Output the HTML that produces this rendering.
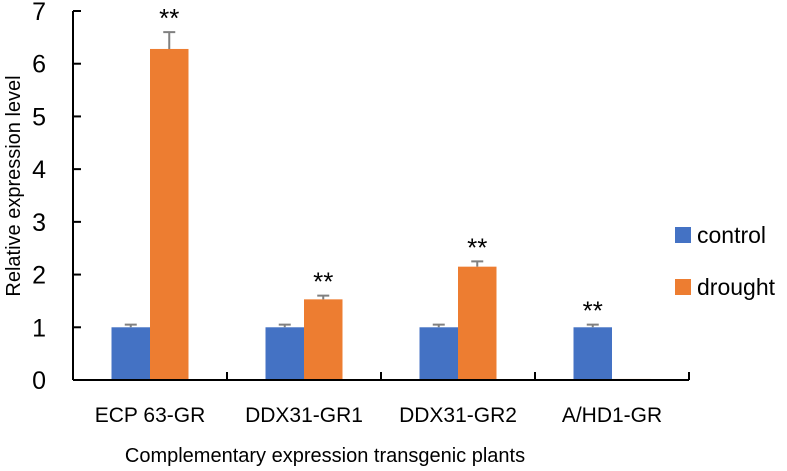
<!DOCTYPE html>
<html><head><meta charset="utf-8"><style>
body{margin:0;background:#fff;}
svg{display:block;font-family:"Liberation Sans",sans-serif;}
</style></head><body>
<svg id="chart" width="787" height="471">
<text transform="translate(20,186) rotate(-90)" text-anchor="middle" font-size="20" fill="#000">Relative expression level</text>
<text x="325" y="462" text-anchor="middle" font-size="20" fill="#000">Complementary expression transgenic plants</text>
<rect x="675" y="227" width="16" height="16" fill="#4472c4"/>
<text x="697" y="243" font-size="23" fill="#000">control</text>
<rect x="675" y="279" width="16" height="16" fill="#ed7d31"/>
<text x="697" y="295" font-size="23" fill="#000">drought</text>
</svg>
<script>
const categories=["ECP 63-GR","DDX31-GR1","DDX31-GR2","A/HD1-GR"];
const controlVals=[1,1,1,1];
const controlErr=[0.05,0.05,0.05,0.05];
const droughtVals=[6.28,1.53,2.15,0.02];
const droughtErr=[0.32,0.07,0.1,0];
const yTicks=[0,1,2,3,4,5,6,7];
const sigControl=[false,false,false,true];
const sigDrought=[true,true,true,false];
const svg=document.getElementById('chart');
const NS='http://www.w3.org/2000/svg';
const x0=73,x1=689,y0=380,yTop=11,yMax=7;
const y=v=>y0-(v/yMax)*(y0-yTop);
const gw=(x1-x0)/categories.length;
const cx=i=>x0+gw*(i+0.5);
const bw=38.5;
function mk(t,a){const e=document.createElementNS(NS,t);for(const k in a)e.setAttribute(k,a[k]);svg.appendChild(e);return e;}
let e=mk('line',{x1:x0,y1:yTop,x2:x0,y2:y0,stroke:'#000','stroke-width':2});


yTicks.forEach(t=>{
 let l=mk('line',{x1:x0,y1:y(t),x2:x0+8,y2:y(t),stroke:'#000','stroke-width':2});
 
 
 let tx=mk('text',{x:x0-27,y:y(t)+9,'text-anchor':'end','font-size':25,fill:'#000'});
 tx.textContent=t;
 
 
});
function drawBar(v,err,xl,col,sig,name){
 let r=mk('rect',{x:xl,y:y(v),width:bw,height:y0-y(v),fill:col});
 
 
 const mx=xl+bw/2;
 if(err>0){
  let g=mk('path',{d:`M${mx},${y(v)} V${y(v+err)} M${mx-6},${y(v+err)} H${mx+6}`,stroke:'#808080','stroke-width':2,fill:'none'});
  
  
 }
 if(sig){
  let s=mk('text',{x:mx,y:y(v+err)-5,'text-anchor':'middle','font-size':26,fill:'#000'});
  s.textContent='**';
  
  
 }
}
categories.forEach((c,i)=>{
 drawBar(controlVals[i],controlErr[i],cx(i)-bw,'#4472c4',sigControl[i],'bar-control');
 drawBar(droughtVals[i],droughtErr[i],cx(i),'#ed7d31',sigDrought[i],'bar-drought');
 let tx=mk('text',{x:cx(i),y:422,'text-anchor':'middle','font-size':21,fill:'#000'});
 tx.textContent=c;
 
 
});
for(let i=1;i<=categories.length;i++){
 let l=mk('line',{x1:x0+gw*i,y1:y0,x2:x0+gw*i,y2:y0-8,stroke:'#000','stroke-width':2});
 
 
}
e=mk('line',{x1:x0,y1:y0,x2:x1,y2:y0,stroke:'#000','stroke-width':2});


</script>
</body></html>
